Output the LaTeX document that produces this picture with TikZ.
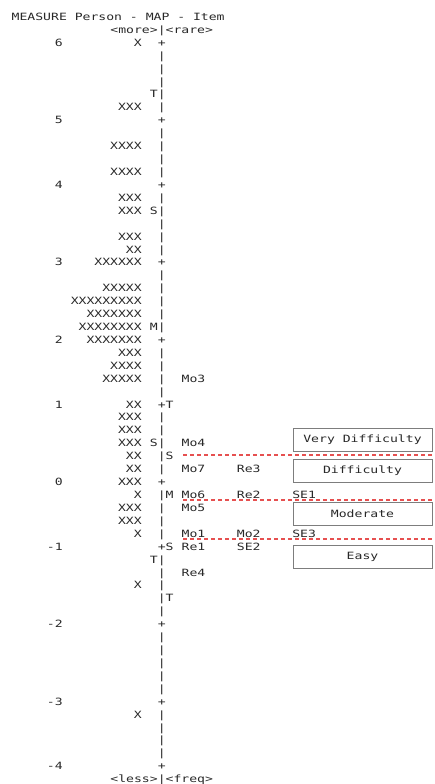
\documentclass[tikz,border=0pt]{standalone}
\usepackage{fontspec}
\usepackage{xcolor}
\usepackage{tikz}
\newfontfamily\mapfont[FakeStretch=1.31]{DejaVu Sans Mono}
\definecolor{mapink}{RGB}{40,40,40}
\definecolor{cutred}{RGB}{230,80,80}
\definecolor{boxgray}{RGB}{125,125,125}

\begin{document}
\begin{tikzpicture}[x=1pt,y=-1pt,
		txt/.style={font=\mapfont\fontsize{10}{12}\selectfont,text=mapink,inner sep=0pt},
		level/.style={txt,draw=boxgray,line width=0.8pt,fill=white,minimum width=139pt,minimum height=23pt},
		cut/.style={cutred,line width=1.1pt,dash pattern=on 4pt off 3pt}]
		\useasboundingbox (0,0) rectangle (434,784);
		% header and footer
		\node[txt,anchor=base west] (title) at (11.5,20.5) {MEASURE~Person~-~MAP~-~Item};
		\node[txt,anchor=base] (more) at (161.7,33.4) {<more>|<rare>};
		\node[txt,anchor=base] (less) at (161.7,782.7) {<less>|<freq>};
		% axis with scale values
		\foreach \r/\v in {0/6,6/5,11/4,17/3,23/2,28/1,34/0,39/-1,45/-2,51/-3,56/-4}{
			\node[txt,anchor=base east] (val\r) at (62.95,{46.3+12.92*\r}) {\v};
			\node[txt,anchor=base] (tick\r) at (161.7,{46.3+12.92*\r}) {+};
		}
		\foreach \r in {1,2,3,4,5,7,8,9,10,12,13,14,15,16,18,19,20,21,22,24,25,26,27,29,30,31,32,33,35,36,37,38,40,41,42,43,44,46,47,48,49,50,52,53,54,55}
			\node[txt,anchor=base] (bar\r) at (161.7,{46.3+12.92*\r}) {|};
		% persons
		\foreach \r/\p in {0/X,5/XXX,8/XXXX,10/XXXX,12/XXX,13/XXX,15/XXX,16/XX,17/XXXXXX,19/XXXXX,20/XXXXXXXXX,21/XXXXXXX,22/XXXXXXXX,23/XXXXXXX,24/XXX,25/XXXX,26/XXXXX,28/XX,29/XXX,30/XXX,31/XXX,32/XX,33/XX,34/XXX,35/X,36/XXX,37/XXX,38/X,42/X,52/X}
			\node[txt,anchor=base east] (pers\r) at (141.95,{46.3+12.92*\r}) {\p};
		% M, S, T markers
		\foreach \r/\m in {4/T,13/S,22/M,31/S,40/T}
			\node[txt,anchor=base] (pmark\r) at (153.8,{46.3+12.92*\r}) {\m};
		\foreach \r/\m in {28/T,32/S,35/M,39/S,43/T}
			\node[txt,anchor=base] (imark\r) at (169.6,{46.3+12.92*\r}) {\m};
		% items
		\foreach \r/\c/\t in {26/0/Mo3,31/0/Mo4,33/0/Mo7,33/1/Re3,35/0/Mo6,35/1/Re2,35/2/SE1,36/0/Mo5,38/0/Mo1,38/1/Mo2,38/2/SE3,39/0/Re1,39/1/SE2,41/0/Re4}
			\node[txt,anchor=base west] (item\r\c) at ({181.45+55.3*\c},{46.3+12.92*\r}) {\t};
		% cut lines between levels
		\coordinate (cut1w) at (183,455);
		\coordinate (cut1e) at (434,455);
		\coordinate (cut2w) at (183,500);
		\coordinate (cut2e) at (434,500);
		\coordinate (cut3w) at (183,539);
		\coordinate (cut3e) at (434,539);
		\draw[cut] (cut1w) -- (cut1e);
		\draw[cut] (cut2w) -- (cut2e);
		\draw[cut] (cut3w) -- (cut3e);
		% level boxes
		\node[level] (vdiff) at (362.5,439.5) {Very~Difficulty};
		\node[level] (diff) at (362.5,470.5) {Difficulty};
		\node[level] (moder) at (362.5,514) {Moderate};
		\node[level] (easy) at (362.5,556.5) {Easy};
	\end{tikzpicture}
\end{document}
